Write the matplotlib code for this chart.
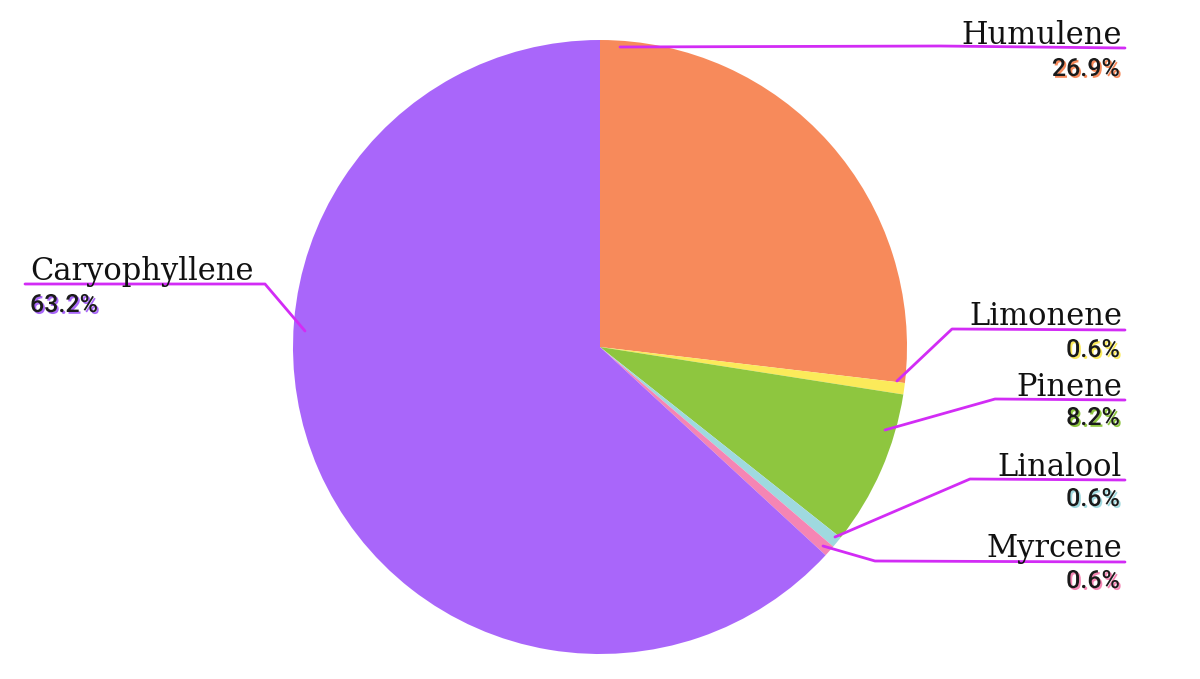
import matplotlib
matplotlib.use("Agg")
import matplotlib.pyplot as plt
import matplotlib.patheffects as pe

labels = ["Humulene", "Limonene", "Pinene", "Linalool", "Myrcene", "Caryophyllene"]
values = [26.9, 0.6, 8.2, 0.6, 0.6, 63.2]
colors = ["#F78A5B", "#FBEA5A", "#8EC63F", "#9FD9DF", "#F585B4", "#A966FA"]
pct_labels = ["26.9%", "0.6%", "8.2%", "0.6%", "0.6%", "63.2%"]

W, H = 1200, 679
fig = plt.figure(figsize=(12, 6.79), dpi=100)
ax = fig.add_axes([0, 0, 1, 1])

def Y(y):
    return H - y

ax.pie(values, colors=colors, startangle=90, counterclock=False,
       center=(600, Y(347)), radius=307, wedgeprops=dict(linewidth=0))
ax.set_xlim(0, W)
ax.set_ylim(0, H)
ax.set_aspect("equal")
ax.axis("off")

line_color = "#D22CF5"
leaders = {
    "Humulene": [(620, 47), (940, 46), (1125, 48)],
    "Limonene": [(897, 381), (952, 329), (1125, 330)],
    "Pinene": [(885, 430), (995, 399), (1125, 400)],
    "Linalool": [(835, 537), (970, 479), (1125, 480)],
    "Myrcene": [(823, 546), (875, 561), (1125, 562)],
    "Caryophyllene": [(305, 331), (265, 284), (25, 284)],
}
name_pos = {
    "Humulene": (1122, 44),
    "Limonene": (1122, 325),
    "Pinene": (1122, 396),
    "Linalool": (1122, 476),
    "Myrcene": (1122, 557),
    "Caryophyllene": (30, 280),
}
pct_pos = {
    "Humulene": (1120, 76),
    "Limonene": (1120, 357),
    "Pinene": (1120, 425),
    "Linalool": (1120, 506),
    "Myrcene": (1120, 588),
    "Caryophyllene": (30, 312),
}

for lab, col, pct in zip(labels, colors, pct_labels):
    pts = leaders[lab]
    ax.plot([p[0] for p in pts], [Y(p[1]) for p in pts], color=line_color,
            lw=2, solid_capstyle="round", zorder=5)
    ha = "left" if lab == "Caryophyllene" else "right"
    nx, ny = name_pos[lab]
    ax.text(nx, Y(ny), lab, ha=ha, va="baseline", fontsize=22,
            family="DejaVu Serif", color="#111111", zorder=6)
    px, py = pct_pos[lab]
    ax.text(px, Y(py), pct, ha=ha, va="baseline", fontsize=18,
            family="Roboto", fontweight="medium", color="#1A1A1A", zorder=6,
            path_effects=[pe.withSimplePatchShadow(offset=(1.3, -1.3),
                                                   shadow_rgbFace=col, alpha=1.0)])

fig.savefig("out.png", dpi=100)
